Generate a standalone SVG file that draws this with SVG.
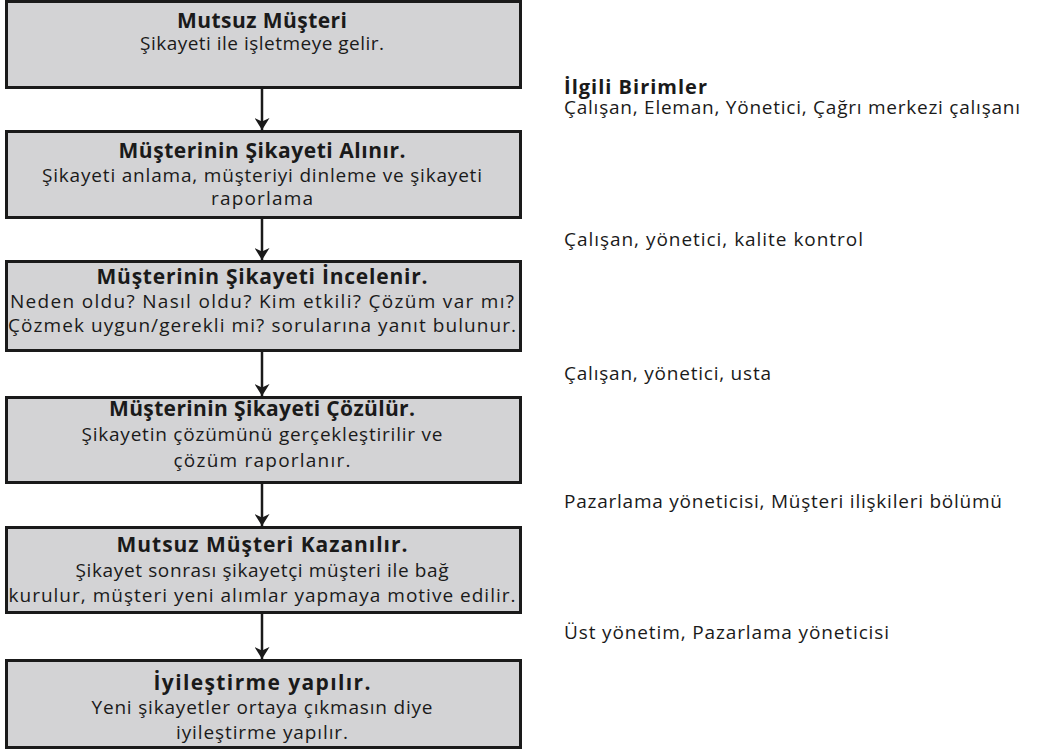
<svg xmlns="http://www.w3.org/2000/svg" width="1038" height="751" viewBox="0 0 1038 751">
  <style>
    .box { fill: #d3d3d5; stroke: #1a1a1a; stroke-width: 3; }
    .t { font-family: "Open Sans", Lato, sans-serif; font-size: 19px; fill: #1a1a1a; text-anchor: middle; }
    .b { font-weight: bold; font-size: 21px; }
    .side { font-family: "Open Sans", Lato, sans-serif; font-size: 19px; fill: #1a1a1a; }
    .head { font-weight: bold; font-size: 20px; }
    .link { stroke: #1a1a1a; stroke-width: 2.5; fill: none; marker-end: url(#arrow); }
  </style>
  <defs>
    <marker id="arrow" markerWidth="12" markerHeight="15" refX="12" refY="7.5" orient="auto" markerUnits="userSpaceOnUse">
      <path d="M0,0 L12,7.5 L0,15 L3.5,7.5 Z" fill="#1a1a1a"/>
    </marker>
  </defs>

  <!-- connectors -->
  <g id="connectors">
    <line class="link" x1="262" y1="88" x2="262" y2="130"/>
    <line class="link" x1="262" y1="218" x2="262" y2="260"/>
    <line class="link" x1="262" y1="351" x2="262" y2="396"/>
    <line class="link" x1="262" y1="483" x2="262" y2="526"/>
    <line class="link" x1="262" y1="613" x2="262" y2="659"/>
  </g>

  <g id="n1">
    <rect class="box" x="6.5" y="1.5" width="514" height="86"/>
    <text class="t b" x="262" y="28" textLength="170">Mutsuz Müşteri</text>
    <text class="t" x="262" y="50" textLength="244">Şikayeti ile işletmeye gelir.</text>
  </g>

  <g id="n2">
    <rect class="box" x="6.5" y="131.5" width="514" height="86"/>
    <text class="t b" x="262" y="158" textLength="287">Müşterinin Şikayeti Alınır.</text>
    <text class="t" x="262" y="182" textLength="440">Şikayeti anlama, müşteriyi dinleme ve şikayeti</text>
    <text class="t" x="262" y="205" textLength="102">raporlama</text>
  </g>

  <g id="n3">
    <rect class="box" x="6.5" y="261.5" width="514" height="89"/>
    <text class="t b" x="262" y="284" textLength="331">Müşterinin Şikayeti İncelenir.</text>
    <text class="t" x="262" y="308" textLength="504">Neden oldu? Nasıl oldu? Kim etkili? Çözüm var mı?</text>
    <text class="t" x="262" y="332" textLength="508">Çözmek uygun/gerekli mi? sorularına yanıt bulunur.</text>
  </g>

  <g id="n4">
    <rect class="box" x="6.5" y="397.5" width="514" height="85"/>
    <text class="t b" x="262" y="416" textLength="306">Müşterinin Şikayeti Çözülür.</text>
    <text class="t" x="262" y="441" textLength="361">Şikayetin çözümünü gerçekleştirilir ve</text>
    <text class="t" x="262" y="467" textLength="177">çözüm raporlanır.</text>
  </g>

  <g id="n5">
    <rect class="box" x="6.5" y="527.5" width="514" height="85"/>
    <text class="t b" x="262" y="552" textLength="291">Mutsuz Müşteri Kazanılır.</text>
    <text class="t" x="262" y="577" textLength="373">Şikayet sonrası şikayetçi müşteri ile bağ</text>
    <text class="t" x="262" y="602" textLength="507">kurulur, müşteri yeni alımlar yapmaya motive edilir.</text>
  </g>

  <g id="n6">
    <rect class="box" x="6.5" y="660.5" width="514" height="87"/>
    <text class="t b" x="262" y="690" textLength="217">İyileştirme yapılır.</text>
    <text class="t" x="262" y="714" textLength="341">Yeni şikayetler ortaya çıkmasın diye</text>
    <text class="t" x="262" y="739" textLength="172">iyileştirme yapılır.</text>
  </g>

  <!-- related units column -->
  <g id="units">
    <text class="side head" x="564" y="94" textLength="143">İlgili Birimler</text>
    <text class="side" x="564" y="114" textLength="456">Çalışan, Eleman, Yönetici, Çağrı merkezi çalışanı</text>
    <text class="side" x="564" y="246" textLength="299">Çalışan, yönetici, kalite kontrol</text>
    <text class="side" x="564" y="380" textLength="207">Çalışan, yönetici, usta</text>
    <text class="side" x="564" y="508" textLength="438">Pazarlama yöneticisi, Müşteri ilişkileri bölümü</text>
    <text class="side" x="564" y="639" textLength="325">Üst yönetim, Pazarlama yöneticisi</text>
  </g>
</svg>
